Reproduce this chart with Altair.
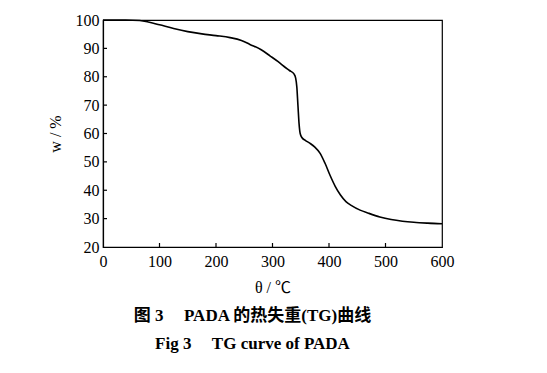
import altair as alt
import pandas as pd

temperature = [0, 40, 65, 80, 100, 125, 150, 175, 200, 225, 245, 260, 280, 296, 310, 320, 330, 338, 341, 343,
               345, 347, 349, 352, 358, 366, 375, 384, 393, 402, 411, 420, 430, 440, 455, 470, 490, 510,
               530, 550, 575, 600]
weight = [100, 100, 99.8, 99.3, 98.3, 97.0, 95.9, 95.1, 94.5, 93.8, 92.8, 91.4, 89.5, 87.3, 85.3, 83.7, 82.2,
          81.0, 79.5, 76.5, 70.0, 63.5, 60.0, 58.6, 57.6, 56.6, 55.2, 53.1, 49.5, 45.2, 41.4, 38.4, 36.0,
          34.6, 33.0, 31.9, 30.6, 29.7, 29.1, 28.7, 28.4, 28.2]

x_ticks = [0, 100, 200, 300, 400, 500, 600]
y_ticks = [20, 30, 40, 50, 60, 70, 80, 90, 100]
x_inner_ticks = [100, 200, 300, 400, 500]
y_inner_ticks = [30, 40, 50, 60, 70, 80, 90]

caption_cn = "图 3\u2002\u2002\u2009PADA 的热失重(TG)曲线"
caption_en = "Fig 3\u2002\u2002\u2009TG curve of PADA"

SERIF = "Liberation Serif, Noto Sans CJK SC"
W, H = 339, 227

df = pd.DataFrame({"t": temperature, "w": weight})
xt = pd.DataFrame({"t": x_inner_ticks})
yt = pd.DataFrame({"w": y_inner_ticks})

xscale = alt.Scale(domain=[0, 600], nice=False)
yscale = alt.Scale(domain=[20, 100], nice=False)

xaxis = alt.Axis(values=x_ticks, title="θ / ℃", ticks=False, grid=False, labelPadding=6,
                 titlePadding=10, format="d", labelOverlap=False, labelFlush=False)
yaxis = alt.Axis(values=y_ticks, title="w / %", ticks=False, grid=False, labelPadding=4,
                 titlePadding=12, format="d", labelOverlap=False, labelFlush=False)

line = alt.Chart(df).mark_line(color="black", strokeWidth=1.6, interpolate="monotone").encode(
    x=alt.X("t:Q", scale=xscale, axis=xaxis),
    y=alt.Y("w:Q", scale=yscale, axis=yaxis),
)

xtick_layer = alt.Chart(xt).mark_rule(color="black", strokeWidth=1.2).encode(
    x=alt.X("t:Q", scale=xscale, axis=xaxis),
    y=alt.value(H),
    y2=alt.value(H - 4),
)
ytick_layer = alt.Chart(yt).mark_rule(color="black", strokeWidth=1.2).encode(
    y=alt.Y("w:Q", scale=yscale, axis=yaxis),
    x=alt.value(0),
    x2=alt.value(4),
)

chart = alt.layer(line, xtick_layer, ytick_layer).properties(
    width=W,
    height=H,
    background="white",
    autosize=alt.AutoSizeParams(type="none"),
    padding={"left": 95, "top": 12, "right": 97, "bottom": 118},
    title=alt.TitleParams(
        text=caption_cn,
        subtitle=caption_en,
        orient="bottom",
        anchor="middle",
        offset=13,
        dx=-20,
        font=SERIF,
        fontSize=17,
        fontWeight="bold",
        color="black",
        subtitleFont=SERIF,
        subtitleFontSize=17,
        subtitleFontWeight="bold",
        subtitleColor="black",
        subtitlePadding=11,
    ),
).configure_view(
    stroke="black", strokeWidth=1.2
).configure_axis(
    domainColor="black", domainWidth=1.2,
    labelFont=SERIF, labelFontSize=16, labelColor="black",
    titleFont=SERIF, titleFontSize=16, titleFontWeight="normal", titleColor="black",
)

chart.save("out.html", embed_options={"renderer": "svg", "actions": False})
